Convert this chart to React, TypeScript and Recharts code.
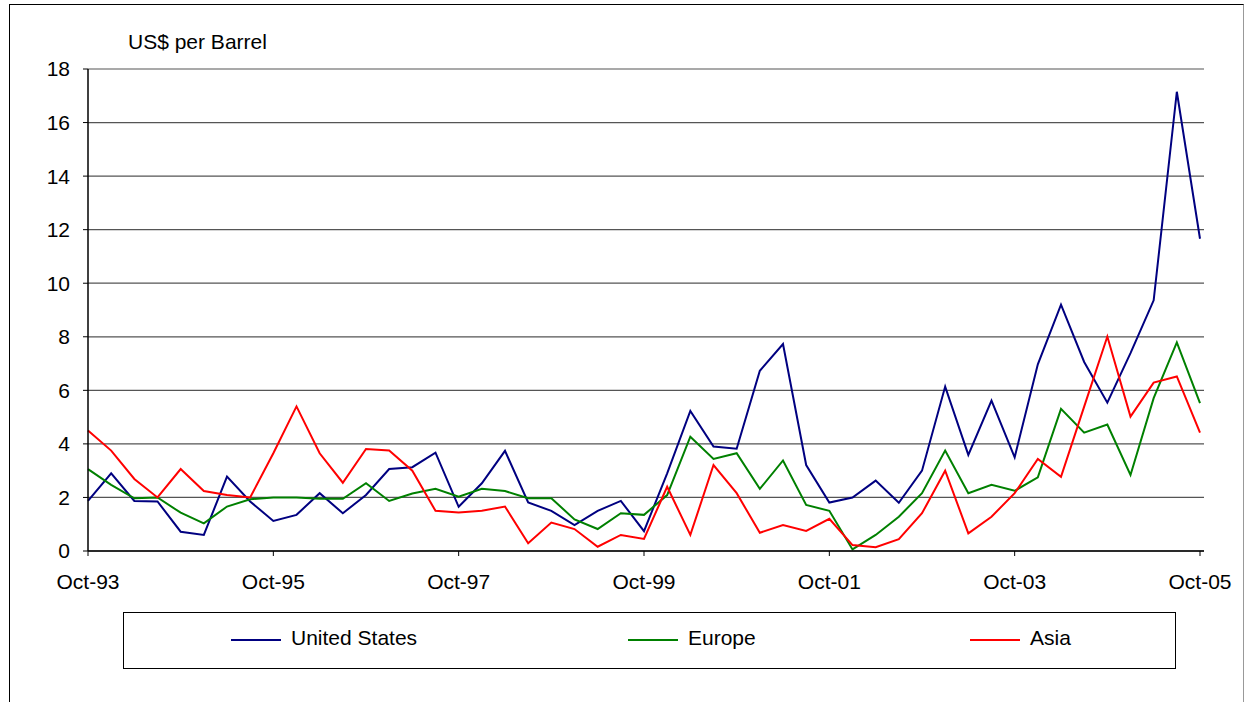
import React from "react";
import { LineChart, Line, XAxis, YAxis, CartesianGrid } from "recharts";

const quarters = [
  "Oct-93", "Jan-94", "Apr-94", "Jul-94", "Oct-94", "Jan-95", "Apr-95", "Jul-95",
  "Oct-95", "Jan-96", "Apr-96", "Jul-96", "Oct-96", "Jan-97", "Apr-97", "Jul-97",
  "Oct-97", "Jan-98", "Apr-98", "Jul-98", "Oct-98", "Jan-99", "Apr-99", "Jul-99",
  "Oct-99", "Jan-00", "Apr-00", "Jul-00", "Oct-00", "Jan-01", "Apr-01", "Jul-01",
  "Oct-01", "Jan-02", "Apr-02", "Jul-02", "Oct-02", "Jan-03", "Apr-03", "Jul-03",
  "Oct-03", "Jan-04", "Apr-04", "Jul-04", "Oct-04", "Jan-05", "Apr-05", "Jul-05",
  "Oct-05",
];

const unitedStates = [
  1.87, 2.9, 1.87, 1.85, 0.72, 0.6, 2.78, 1.85, 1.12, 1.35,
  2.16, 1.41, 2.09, 3.06, 3.13, 3.67, 1.65, 2.53, 3.74, 1.81,
  1.5, 0.97, 1.5, 1.87, 0.74, 2.9, 5.23, 3.9, 3.82, 6.73,
  7.73, 3.21, 1.81, 2.0, 2.63, 1.8, 3.0, 6.14, 3.59, 5.62,
  3.5, 6.97, 9.2, 7.06, 5.54, 7.39, 9.36, 17.15, 11.66,
];

const europe = [
  3.06, 2.47, 1.97, 2.0, 1.43, 1.03, 1.66, 1.93, 2.0, 2.0,
  1.95, 1.95, 2.53, 1.87, 2.15, 2.32, 2.03, 2.32, 2.24, 1.97,
  1.97, 1.18, 0.82, 1.41, 1.35, 2.09, 4.27, 3.44, 3.65, 2.32,
  3.38, 1.72, 1.5, 0.06, 0.6, 1.28, 2.16, 3.75, 2.16, 2.47,
  2.25, 2.75, 5.31, 4.42, 4.72, 2.84, 5.71, 7.79, 5.52,
];

const asia = [
  4.5, 3.75, 2.69, 2.0, 3.06, 2.24, 2.09, 2.0, 3.65, 5.4,
  3.65, 2.55, 3.81, 3.75, 3.0, 1.5, 1.44, 1.5, 1.66, 0.29,
  1.06, 0.82, 0.16, 0.6, 0.45, 2.4, 0.6, 3.21, 2.16, 0.68,
  0.97, 0.75, 1.2, 0.22, 0.14, 0.44, 1.41, 3.0, 0.66, 1.28,
  2.16, 3.44, 2.77, 5.39, 8.01, 5.02, 6.29, 6.52, 4.42,
];

const yTicks = [0, 2, 4, 6, 8, 10, 12, 14, 16, 18];

const series = [
  { key: "us", name: "United States", color: "#000080", legendX: 231 },
  { key: "eu", name: "Europe", color: "#008000", legendX: 628 },
  { key: "asia", name: "Asia", color: "#ff0000", legendX: 970 },
];

const data = quarters.map((q, i) => ({
  date: q,
  us: unitedStates[i],
  eu: europe[i],
  asia: asia[i],
}));

const FONT = '"Liberation Sans", Arial, sans-serif';

export default function App() {
  return (
    <div
      style={{
        position: "absolute",
        left: 0,
        top: 0,
        width: 1244,
        height: 702,
        overflow: "hidden",
        background: "#fff",
        fontFamily: FONT,
      }}
    >
      {/* outer chart frame */}
      <div
        style={{
          position: "absolute",
          left: 9,
          top: 4,
          width: 1233,
          height: 740,
          borderTop: "1px solid #000",
          borderLeft: "1px solid #000",
          borderRight: "1px solid #999",
        }}
      />
      <div
        style={{
          position: "absolute",
          left: 128,
          top: 30,
          fontSize: 21,
          color: "#000",
          whiteSpace: "nowrap",
        }}
      >
        US$ per Barrel
      </div>
      <div style={{ position: "absolute", left: 0, top: 0 }}>
        <LineChart
          width={1244}
          height={702}
          data={data}
          margin={{ top: 69, right: 40, left: 8, bottom: 111 }}
        >
          <CartesianGrid
            vertical={false}
            stroke="#555"
            strokeWidth={1.2}
          />
          <XAxis
            dataKey="date"
            interval={7}
            padding={{ left: 0, right: 4 }}
            height={40}
            tickSize={5}
            tickMargin={18}
            axisLine={{ stroke: "#000", strokeWidth: 1.5 }}
            tickLine={{ stroke: "#000" }}
            tick={{ fill: "#000", fontSize: 21, fontFamily: FONT }}
          />
          <XAxis
            xAxisId="top"
            orientation="top"
            dataKey="date"
            height={0}
            tick={false}
            tickLine={false}
            axisLine={{ stroke: "#888", strokeWidth: 2 }}
          />
          <YAxis
            domain={[0, 18]}
            ticks={yTicks}
            width={80}
            tickSize={5}
            tickMargin={13}
            axisLine={{ stroke: "#000", strokeWidth: 1.5 }}
            tickLine={{ stroke: "#000" }}
            tick={{ fill: "#000", fontSize: 21, fontFamily: FONT }}
          />
          <YAxis
            yAxisId="right"
            orientation="right"
            domain={[0, 18]}
            width={0}
            tick={false}
            tickLine={false}
            axisLine={{ stroke: "#888", strokeWidth: 2 }}
          />
          {series.map((s) => (
            <Line
              key={s.key}
              type="linear"
              dataKey={s.key}
              name={s.name}
              stroke={s.color}
              strokeWidth={2}
              dot={false}
              activeDot={false}
              isAnimationActive={false}
            />
          ))}
        </LineChart>
      </div>
      {/* legend */}
      <div
        style={{
          position: "absolute",
          left: 123,
          top: 612,
          width: 1053,
          height: 57,
          border: "1.5px solid #000",
          boxSizing: "border-box",
        }}
      />
      {series.map((s) => (
        <React.Fragment key={s.key}>
          <div
            style={{
              position: "absolute",
              left: s.legendX,
              top: 639,
              width: 50,
              height: 2,
              background: s.color,
            }}
          />
          <div
            style={{
              position: "absolute",
              left: s.legendX + 60,
              top: 626,
              fontSize: 21,
              color: "#000",
              whiteSpace: "nowrap",
            }}
          >
            {s.name}
          </div>
        </React.Fragment>
      ))}
    </div>
  );
}
